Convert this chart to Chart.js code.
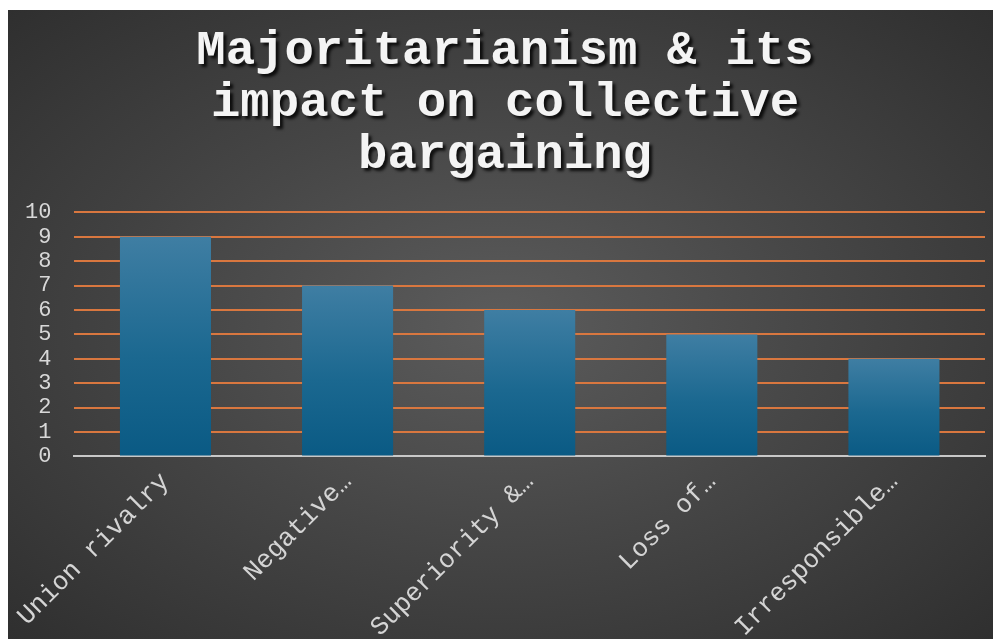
<!DOCTYPE html>
<html>
<head>
<meta charset="utf-8">
<script src="https://cdn.jsdelivr.net/npm/chart.js@4.4.1/dist/chart.umd.min.js"></script>
<style>
  html,body{margin:0;padding:0;background:#fff;}
  #wrap{position:absolute;left:8px;top:10px;width:985px;height:629px;
    background:radial-gradient(ellipse at 50% 50%,#5c5c5c 0%,#474747 45%,#2f2f2f 100%);}
</style>
</head>
<body>
<div id="wrap"><canvas id="c"></canvas></div>
<script>
// chart data
const titleLines=['Majoritarianism & its','impact on collective','bargaining'];
const categories=['Union rivalry','Negative…','Superiority &…','Loss of…','Irresponsible…'];
const values=[9,7,6,5,4];
const yTicks=[0,1,2,3,4,5,6,7,8,9,10];

const MONO="'Liberation Mono','Courier New',monospace";

function barFill(ctx){
  const chart=ctx.chart, area=chart.chartArea;
  if(!area) return '#1a6a94';
  const y=chart.scales.y;
  const v=ctx.raw==null?0:ctx.raw;
  const top=y.getPixelForValue(v), bot=y.getPixelForValue(0);
  const g=chart.ctx.createLinearGradient(0,top,0,bot);
  g.addColorStop(0,'#3f7ea3');
  g.addColorStop(0.55,'#1b6890');
  g.addColorStop(1,'#0a5a84');
  return g;
}

new Chart(document.getElementById('c'),{
  type:'bar',
  data:{labels:categories,datasets:[{
    data:values,backgroundColor:barFill,borderWidth:0,
    barPercentage:0.5,categoryPercentage:1
  }]},
  plugins:[{
    // drop shadow behind the title text
    id:'titleShadow',
    beforeDraw(chart){
      const t=chart.titleBlock; if(!t||t._patched) return;
      const orig=t.draw; t._patched=true;
      t.draw=function(){
        const c=chart.ctx; c.save();
        c.shadowColor='rgba(0,0,0,.8)'; c.shadowBlur=3; c.shadowOffsetX=3; c.shadowOffsetY=3;
        orig.call(t); c.restore();
      };
    }
  }],
  options:{
    responsive:true,maintainAspectRatio:false,animation:false,
    layout:{padding:{left:17,right:8,top:0,bottom:0}},
    plugins:{
      legend:{display:false},tooltip:{enabled:false},
      title:{display:true,text:titleLines,color:'#f4f4f4',
        font:{family:MONO,size:49,weight:'bold',lineHeight:1.07},
        padding:{top:15,bottom:30}}
    },
    scales:{
      x:{
        grid:{display:false},
        border:{display:true,color:'#c8c8c8',width:2},
        ticks:{color:'#d4d4d4',font:{family:MONO,size:26},maxRotation:45,minRotation:45,padding:2},
        // rotated labels may run past the plot edge, as in the original
        afterFit(s){ s.paddingLeft=0; s.paddingRight=0; s.height-=6; }
      },
      y:{
        min:0,max:10,
        afterBuildTicks(s){ s.ticks=yTicks.map(v=>({value:v})); },
        // chart.js reserves tick padding twice; drop the outer copy
        afterFit(s){ s.width-=23; },
        border:{display:false},
        grid:{drawTicks:false,lineWidth:2,
          color:c=>c.tick&&c.tick.value===0?'rgba(0,0,0,0)':'#d9773f'},
        ticks:{color:'#d8d8d8',font:{family:MONO,size:22},padding:23,autoSkip:false}
      }
    }
  }
});
</script>
</body>
</html>
